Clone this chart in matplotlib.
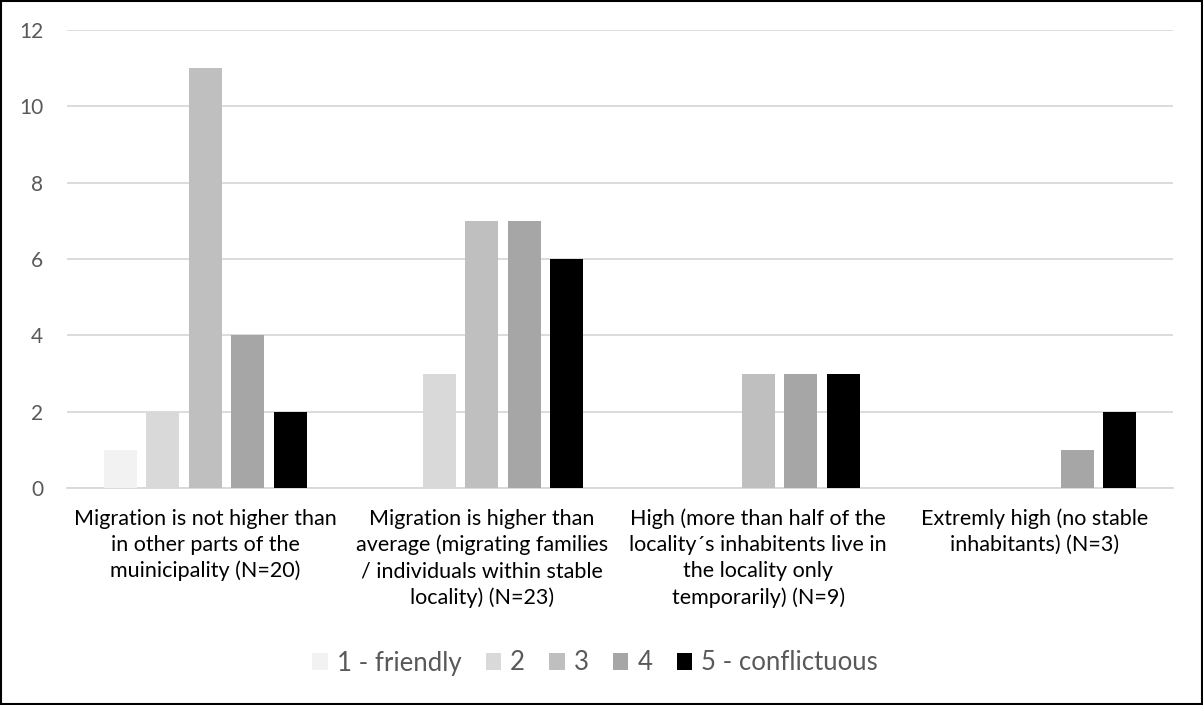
import matplotlib
matplotlib.use("Agg")
import matplotlib.pyplot as plt
import numpy as np
from matplotlib.patches import Rectangle

categories = [
    "Migration is not higher than\nin other parts of the\nmuinicipality (N=20)",
    "Migration is higher than\naverage (migrating families\n/ individuals within stable\nlocality) (N=23)",
    "High (more than half of the\nlocality\u00b4s inhabitents live in\nthe locality only\ntemporarily) (N=9)",
    "Extremly high (no stable\ninhabitants) (N=3)",
]
series_names = ["1 - friendly", "2", "3", "4", "5 - conflictuous"]
values = {
    "1 - friendly": [1, 0, 0, 0],
    "2": [2, 3, 0, 0],
    "3": [11, 7, 3, 0],
    "4": [4, 7, 3, 1],
    "5 - conflictuous": [2, 6, 3, 2],
}
colors = ["#f2f2f2", "#d9d9d9", "#bfbfbf", "#a6a6a6", "#000000"]
yticks = [0, 2, 4, 6, 8, 10, 12]

plt.rcParams['font.family'] = ['Lato', 'DejaVu Sans']
fig = plt.figure(figsize=(12.03, 7.05), dpi=100)
ax = fig.add_axes([67/1203, 1-488/705, (1173-67)/1203, (488-30)/705])

x = np.arange(len(categories))
pitch = 1/6.5
bw = pitch*0.78
for i, name in enumerate(series_names):
    vals = values[name]
    ax.bar(x + (i-2)*pitch, vals, width=bw, color=colors[i], label=name, zorder=3)

ax.set_xlim(-0.5, len(categories)-0.5)
ax.set_ylim(0, 12)
ax.set_yticks(yticks)
ax.set_yticklabels([str(t) for t in yticks], fontsize=15, color="#595959")
ax.tick_params(axis='y', length=0, pad=17)
ax.tick_params(axis='x', length=0, pad=15)
ax.set_xticks(x)
ax.set_xticklabels(categories, fontsize=15.5, color="black", linespacing=1.36, va='top')
ax.yaxis.grid(True, color="#d9d9d9", linewidth=1.3, zorder=0)
for s in ['top', 'right', 'left']:
    ax.spines[s].set_visible(False)
ax.spines['bottom'].set_color("#d9d9d9")
ax.spines['bottom'].set_linewidth(1.3)

leg = fig.legend(loc='center', bbox_to_anchor=(595/1203, 1-663/705), ncol=5, frameon=False,
                 fontsize=18.5, handlelength=0.6, handleheight=0.6, handletextpad=0.35, columnspacing=0.95)
for t in leg.get_texts():
    t.set_color("#595959")

fig.patches.append(Rectangle((0.001, 0.001), 0.998, 0.997, transform=fig.transFigure,
                             fill=False, edgecolor='black', linewidth=1.5))
fig.savefig("out.png", dpi=100)
